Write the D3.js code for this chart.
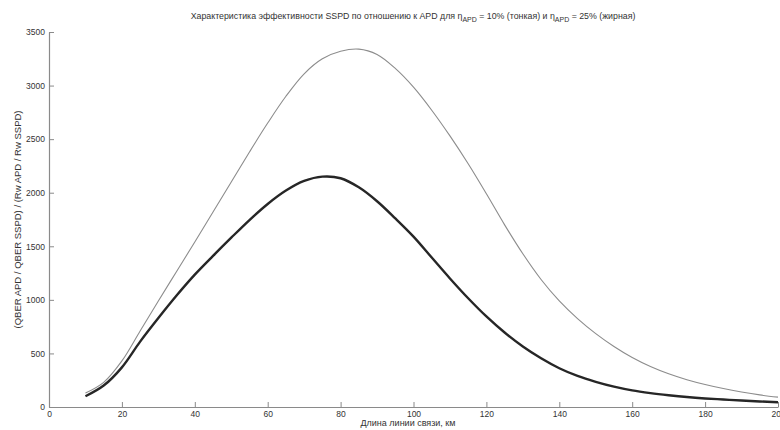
<!DOCTYPE html>
<html>
<head>
<meta charset="utf-8">
<script src="https://cdn.jsdelivr.net/npm/d3@7"></script>
<style>
  body { margin: 0; background: #fff; }
  svg text { font-family: "Liberation Sans Narrow", "Liberation Sans", Arial, sans-serif; fill: #333; }
</style>
</head>
<body>
<svg id="chart" width="780" height="430"></svg>
<script>
// distance, km
const lengthKm = [10, 15, 20, 25, 30, 35, 40, 45, 50, 55, 60, 65, 70, 75, 80, 85, 90, 95, 100,
  105, 110, 115, 120, 125, 130, 135, 140, 145, 150, 155, 160, 165, 170, 175, 180, 185, 190, 195, 200];

// eta APD = 10% (thin)
const ratioThin = [130, 230, 430, 710, 990, 1265, 1540, 1820, 2100, 2380, 2650, 2900, 3110, 3250, 3320, 3340, 3290, 3160, 2985,
  2770, 2530, 2270, 1990, 1700, 1430, 1190, 990, 825, 685, 565, 462, 378, 310, 255, 210, 172, 140, 113, 92];

// eta APD = 25% (thick)
const ratioThick = [100, 200, 370, 610, 830, 1040, 1235, 1410, 1580, 1745, 1895, 2020, 2110, 2150, 2135, 2050, 1920, 1760, 1590,
  1395, 1200, 1015, 845, 695, 565, 455, 362, 290, 235, 190, 155, 130, 110, 93, 80, 70, 60, 52, 45];

const xTicks = [0, 20, 40, 60, 80, 100, 120, 140, 160, 180, 200];
const yTicks = [0, 500, 1000, 1500, 2000, 2500, 3000, 3500];

const svg = d3.select("#chart");
const plotLeft = 49, plotRight = 778, plotTop = 32, plotBottom = 407;

const x = d3.scaleLinear().domain([0, 200]).range([plotLeft, plotRight]);
const y = d3.scaleLinear().domain([0, 3500]).range([plotBottom, plotTop]);

// axes (ticks point inward, matlab style)
const axisColor = "#8a8a8a";

const xAxis = svg.append("g")
    .attr("transform", `translate(0,${plotBottom})`)
    .call(d3.axisBottom(x).tickValues(xTicks).tickFormat(d3.format("d"))
        .tickSizeInner(-5).tickSizeOuter(0).tickPadding(4));

const yAxis = svg.append("g")
    .attr("transform", `translate(${plotLeft},0)`)
    .call(d3.axisLeft(y).tickValues(yTicks).tickFormat(d3.format("d"))
        .tickSizeInner(-5).tickSizeOuter(0).tickPadding(4));

[xAxis, yAxis].forEach(g => {
    g.select(".domain").attr("stroke", axisColor).attr("stroke-width", 1.2);
    g.selectAll(".tick line").attr("stroke", axisColor);
    g.selectAll(".tick text").attr("font-size", 8.5).attr("fill", "#444");
});

// curves
const line = vals => d3.line()
    .x((d, i) => x(lengthKm[i]))
    .y(d => y(d))
    .curve(d3.curveCatmullRom.alpha(0.5))(vals);

svg.append("path")
    .attr("d", line(ratioThin))
    .attr("fill", "none")
    .attr("stroke", "#8c8c8c")
    .attr("stroke-width", 1.1);

svg.append("path")
    .attr("d", line(ratioThick))
    .attr("fill", "none")
    .attr("stroke", "#262626")
    .attr("stroke-width", 2.4);

// title
const title = svg.append("text")
    .attr("x", 413)
    .attr("y", 19)
    .attr("text-anchor", "middle")
    .attr("font-size", 8.8);
title.append("tspan").text("Характеристика эффективности SSPD по отношению к APD для η");
title.append("tspan").attr("font-size", 7).attr("dy", 3).text("APD");
title.append("tspan").attr("dy", -3).text(" = 10% (тонкая) и η");
title.append("tspan").attr("font-size", 7).attr("dy", 3).text("APD");
title.append("tspan").attr("dy", -3).text(" = 25% (жирная)");

// axis labels
svg.append("text")
    .attr("x", 408)
    .attr("y", 426)
    .attr("text-anchor", "middle")
    .attr("font-size", 9)
    .text("Длина линии связи, км");

svg.append("text")
    .attr("transform", `translate(21,${(plotTop + plotBottom) / 2}) rotate(-90)`)
    .attr("text-anchor", "middle")
    .attr("font-size", 9.5)
    .text("(QBER APD / QBER SSPD) / (Rw APD / Rw SSPD)");
</script>
</body>
</html>
